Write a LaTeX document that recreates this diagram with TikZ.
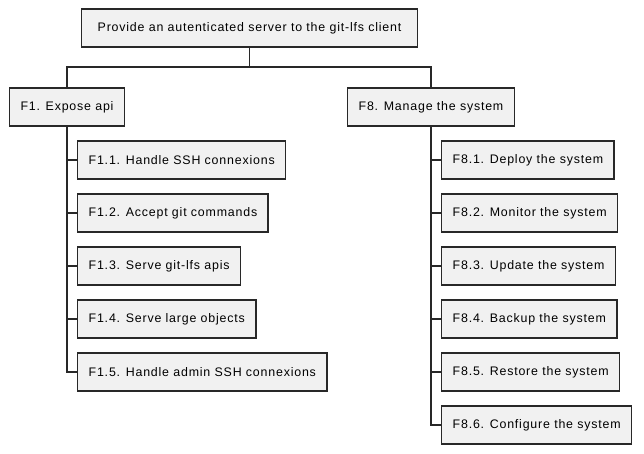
\documentclass[tikz,border=0pt]{standalone}
\usepackage{fontspec}
\setmainfont[LetterSpace=6.5]{Liberation Sans}
\usetikzlibrary{positioning}
\definecolor{boxfill}{RGB}{241,241,241}
\definecolor{boxline}{RGB}{40,40,40}

\begin{document}
\begin{tikzpicture}[x=0.75pt,y=0.75pt,yscale=-1,xscale=1,
  wbsbox/.style={draw=boxline,fill=boxfill,line width=1.1pt,minimum height=28.5pt,inner xsep=8.2pt,font=\fontsize{9.3}{11}\selectfont},
  wbsline/.style={draw=boxline,line width=1.1pt}]
\useasboundingbox (0,0) rectangle (644,454);

% Root
\node [wbsbox,minimum width=252pt] (root) at (249.5,28) {Provide an autenticated server to the git-lfs client};

% Level 1
\node [wbsbox] (fone) at (67,107) {F1. Expose api};
\node [wbsbox] (feight) at (431,107) {F8. Manage the system};

% Level 2 under F1
\node [wbsbox,anchor=west] (fonea) at (77,160) {F1.1. Handle SSH connexions};
\node [wbsbox,anchor=west] (foneb) at (77,213) {F1.2. Accept git commands};
\node [wbsbox,anchor=west] (fonec) at (77,266) {F1.3. Serve git-lfs apis};
\node [wbsbox,anchor=west] (foned) at (77,319) {F1.4. Serve large objects};
\node [wbsbox,anchor=west] (fonee) at (77,372) {F1.5. Handle admin SSH connexions};

% Level 2 under F8
\node [wbsbox,anchor=west] (feighta) at (441,160) {F8.1. Deploy the system};
\node [wbsbox,anchor=west] (feightb) at (441,213) {F8.2. Monitor the system};
\node [wbsbox,anchor=west] (feightc) at (441,266) {F8.3. Update the system};
\node [wbsbox,anchor=west] (feightd) at (441,319) {F8.4. Backup the system};
\node [wbsbox,anchor=west] (feighte) at (441,372) {F8.5. Restore the system};
\node [wbsbox,anchor=west] (feightf) at (441,425) {F8.6. Configure the system};

% Connectors
\coordinate (bus) at (249.5,67);
\draw [wbsline] (root.south) -- (bus);
\draw [wbsline] (bus) -| (fone.north);
\draw [wbsline] (bus) -| (feight.north);

\foreach \child in {fonea,foneb,fonec,foned,fonee}
  \draw [wbsline] (fone.south) |- (\child.west);
\foreach \child in {feighta,feightb,feightc,feightd,feighte,feightf}
  \draw [wbsline] (feight.south) |- (\child.west);

\end{tikzpicture}
\end{document}
